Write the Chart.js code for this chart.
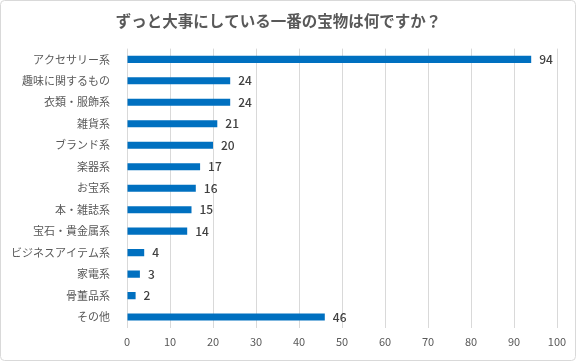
<!DOCTYPE html>
<html><head><meta charset="utf-8">
<script src="https://cdn.jsdelivr.net/npm/chart.js@4"></script>
<style>html,body{margin:0;padding:0;background:#fff}#w{width:576px;height:361px;position:relative}</style>
</head><body><div id="w"><canvas id="c" width="576" height="361"></canvas></div>
<script>
const categories = ["アクセサリー系","趣味に関するもの","衣類・服飾系","雑貨系","ブランド系","楽器系","お宝系","本・雑誌系","宝石・貴金属系","ビジネスアイテム系","家電系","骨董品系","その他"];
const values = [94,24,24,21,20,17,16,15,14,4,3,2,46];
const xTicks = [0,10,20,30,40,50,60,70,80,90,100];
const titleText = "ずっと大事にしている一番の宝物は何ですか？";
const FONT = "'Noto Sans CJK JP', 'Noto Sans', sans-serif";

const labelPlugin = {
  id: 'vals',
  afterDatasetsDraw(chart) {
    const ctx = chart.ctx;
    const meta = chart.getDatasetMeta(0);
    ctx.save();
    ctx.font = "500 12px " + FONT;
    ctx.fillStyle = "#404040";
    ctx.textBaseline = "middle";
    ctx.textAlign = "left";
    meta.data.forEach((bar, i) => {
      ctx.fillText(String(values[i]), bar.x + 8, bar.y);
    });
    ctx.restore();
  }
};
const borderPlugin = {
  id: 'frame',
  afterDraw(chart) {
    const ctx = chart.ctx;
    ctx.save();
    ctx.strokeStyle = "#d9d9d9";
    ctx.lineWidth = 1;
    ctx.beginPath();
    ctx.roundRect(0.5, 0.5, chart.width - 1, chart.height - 1, 4);
    ctx.stroke();
    ctx.restore();
  }
};

new Chart(document.getElementById('c'), {
  type: 'bar',
  data: { labels: categories, datasets: [{ data: values, backgroundColor: "#0070c0", barPercentage: 0.33, categoryPercentage: 1 }] },
  options: {
    indexAxis: 'y',
    responsive: false,
    animation: false,
    devicePixelRatio: 1,
    layout: { padding: { left: 0, right: 19, top: 0, bottom: 6 } },
    plugins: {
      legend: { display: false },
      tooltip: { enabled: false },
      title: { display: true, text: titleText, color: "#595959", font: { family: FONT, size: 15.5, weight: 'bold' }, padding: { top: 12, bottom: 18 } }
    },
    scales: {
      x: {
        min: 0, max: 100,
        afterBuildTicks(s) { s.ticks = xTicks.map(v => ({ value: v })); },
        grid: { color: "#d9d9d9", drawTicks: false },
        border: { display: false },
        ticks: { color: "#595959", font: { family: FONT, size: 11 }, padding: 7 }
      },
      y: {
        grid: { display: false },
        border: { display: false },
        ticks: { color: "#595959", font: { family: FONT, size: 11 }, padding: 9, autoSkip: false },
        afterFit(s) { s.width = 127; }
      }
    }
  },
  plugins: [labelPlugin, borderPlugin]
});
</script></body></html>
